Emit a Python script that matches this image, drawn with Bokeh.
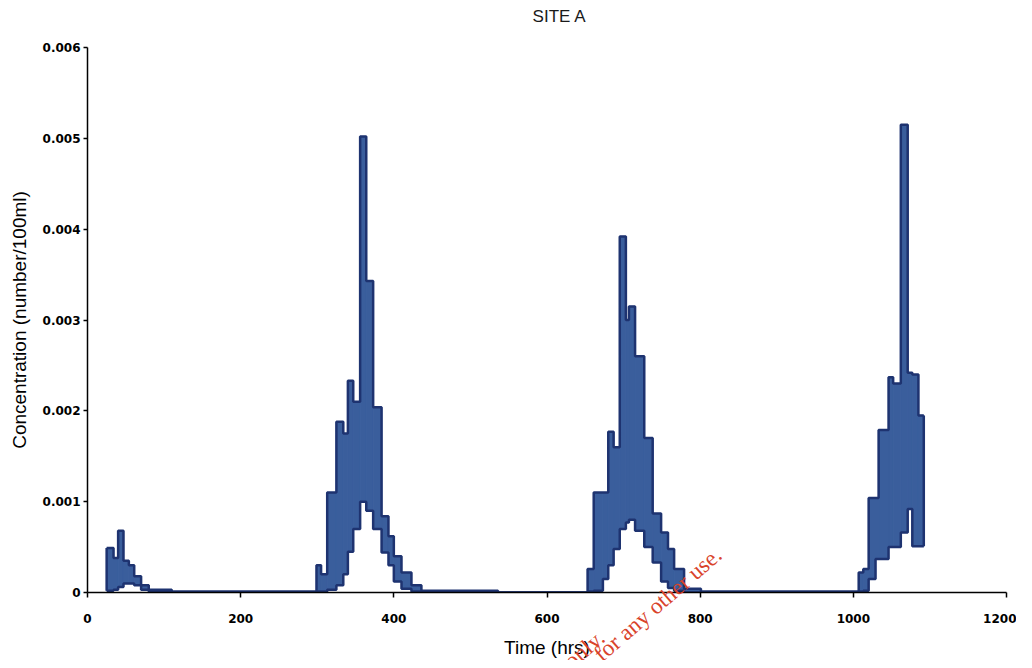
from bokeh.plotting import figure
from bokeh.layouts import column
from bokeh.models import Range1d, FixedTicker, Label
from bokeh.embed import file_html
from bokeh.resources import INLINE

# Time bins (hours): edges of each step of the sampled record
time_edges = [25, 34, 40, 47, 54, 61, 70, 80, 110, 299, 305, 313, 325, 334, 340,
              347, 356, 364, 373, 384, 393, 400, 410, 423, 436, 536, 653, 661, 673,
              680, 687, 695, 703, 707, 715, 727, 738, 749, 758, 766, 779, 801, 1007,
              1013, 1020, 1029, 1033, 1046, 1052, 1062, 1071, 1077, 1085, 1092]
# Upper envelope of the oscillating concentration (number/100ml)
conc_high = [0.00049, 0.00038, 0.00068, 0.00035, 0.0003, 0.00018, 0.00008, 0.00003, 0.00001,
             0.0003, 0.0002, 0.0011, 0.00188, 0.00175, 0.00233, 0.0021, 0.00502, 0.00343,
             0.00204, 0.00084, 0.00062, 0.0004, 0.00022, 0.00008, 0.00002, 0.0,
             0.00026, 0.0011, 0.0011, 0.00177, 0.0016, 0.00392, 0.003, 0.00315, 0.0026,
             0.0017, 0.00087, 0.00066, 0.00048, 0.00026, 0.00004, 0.00001,
             0.00022, 0.00026, 0.00104, 0.00104, 0.00179, 0.00237, 0.0023, 0.00515,
             0.00242, 0.0024, 0.00195]
# Lower envelope
conc_low = [0.00002, 0.00003, 0.00006, 0.0001, 0.0001, 0.00008, 0.00003, 0.00001, 0.0,
            0.00001, 0.00001, 0.00003, 0.00008, 0.0002, 0.00045, 0.0007, 0.001, 0.0009,
            0.0007, 0.00044, 0.0003, 0.00012, 0.00004, 0.00001, 0.0, 0.0,
            0.00001, 0.00002, 0.00015, 0.0003, 0.00048, 0.0007, 0.00077, 0.0008, 0.00068,
            0.0005, 0.00033, 0.00012, 0.00005, 0.00002, 0.0, 0.0,
            0.00001, 0.00002, 0.00015, 0.00037, 0.00037, 0.0005, 0.0005, 0.00066,
            0.00092, 0.00051, 0.00051]

x_ticks = [0, 200, 400, 600, 800, 1000, 1200]
y_ticks = [0, 0.001, 0.002, 0.003, 0.004, 0.005, 0.006]
y_tick_labels = ["0", "0.001", "0.002", "0.003", "0.004", "0.005", "0.006"]

FILL = "#3A5E9C"
EDGE = "#1E3370"
W, H = 1016, 660
LEFT = 87

p = figure(width=W, height=H, output_backend="svg", toolbar_location=None,
           x_range=Range1d(0, 1200), y_range=Range1d(0, 0.006),
           min_border_left=LEFT, min_border_right=10, min_border_top=47, min_border_bottom=63)

lefts = time_edges[:-1]
rights = time_edges[1:]
p.quad(left=lefts, right=rights, top=conc_high, bottom=conc_low,
       fill_color=FILL, line_color=FILL, line_width=1)
p.step(x=time_edges, y=conc_high + [conc_high[-1]], mode="after", line_color=EDGE, line_width=2.5)
p.step(x=time_edges, y=conc_low + [conc_low[-1]], mode="after", line_color=EDGE, line_width=2.5)
p.segment(x0=[time_edges[0], time_edges[-1]], y0=[conc_low[0], conc_low[-1]],
          x1=[time_edges[0], time_edges[-1]], y1=[conc_high[0], conc_high[-1]],
          line_color=EDGE, line_width=2.5)

p.xgrid.grid_line_color = None
p.ygrid.grid_line_color = None
p.outline_line_color = None

for ax in (p.xaxis, p.yaxis):
    ax.axis_line_color = "black"
    ax.axis_line_width = 1.5
    ax.major_tick_line_color = "black"
    ax.major_tick_line_width = 1.5
    ax.major_tick_in = 0
    ax.major_tick_out = 5
    ax.minor_tick_line_color = None
    ax.major_label_text_font = "DejaVu Sans"
    ax.major_label_text_font_style = "bold"
    ax.major_label_text_font_size = "12px"
    ax.major_label_text_color = "black"
    ax.axis_label_text_font = "Liberation Sans"
    ax.axis_label_text_font_style = "normal"
    ax.axis_label_text_font_size = "19px"
    ax.axis_label_text_color = "black"

p.xaxis.ticker = FixedTicker(ticks=x_ticks)
p.yaxis.ticker = FixedTicker(ticks=y_ticks)
p.yaxis.major_label_overrides = dict(zip(y_ticks, y_tick_labels))
p.xaxis.axis_label = "Time (hrs)"
p.yaxis.axis_label = "Concentration (number/100ml)"
p.xaxis.major_label_standoff = 16
p.xaxis.axis_label_standoff = 11
p.yaxis.major_tick_out = 4
p.yaxis.major_label_standoff = 3
p.yaxis.axis_label_standoff = 10

# transparent overlay for the title and the scan's watermark; its frame is aligned
# with the main frame by the column layout, so screen x is measured from LEFT
ov = figure(width=W, height=H, output_backend="svg", toolbar_location=None,
            x_range=Range1d(0, 1), y_range=Range1d(0, 1),
            x_axis_type=None, y_axis_type=None, min_border=0,
            background_fill_alpha=0, border_fill_alpha=0, outline_line_color=None)
lab = dict(x_units="screen", y_units="screen")
ov.add_layout(Label(x=559 - LEFT, y=H - 16, text="SITE A", text_align="center",
                    text_baseline="middle", text_color="#1a1a1a",
                    text_font="Liberation Sans", text_font_size="17px", **lab))
ov.add_layout(Label(x=718 - LEFT, y=H - 551, text="for any other use.", angle=41,
                    angle_units="deg", text_align="right", text_baseline="alphabetic",
                    text_color="#D9432B", text_font="Liberation Serif",
                    text_font_size="23px", **lab))
ov.add_layout(Label(x=601 - LEFT, y=H - 634, text="s only.", angle=41, angle_units="deg",
                    text_align="right", text_baseline="alphabetic", text_color="#D9432B",
                    text_font="Liberation Serif", text_font_size="23px", **lab))
ov.margin = (-H, 0, 0, 0)

layout = column(p, ov)
open("out.html", "w").write(file_html(layout, INLINE))
